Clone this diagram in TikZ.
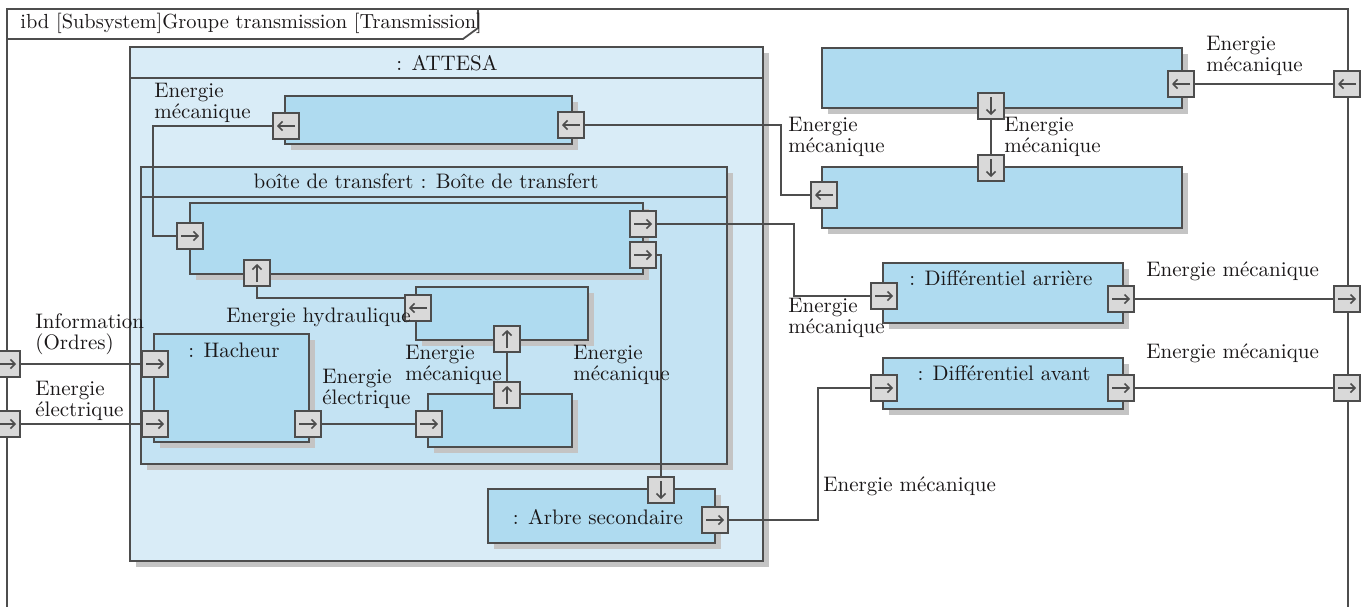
\documentclass[tikz,border=0pt]{standalone}
\usepackage{fontspec}
\usetikzlibrary{fit,shadows,arrows.meta}
\definecolor{cAtt}{HTML}{D9ECF7}
\definecolor{cTr}{HTML}{C4E3F3}
\definecolor{cBlk}{HTML}{AFDBF0}
\definecolor{cPort}{HTML}{D9D9D9}
\definecolor{cLine}{HTML}{4D4D4D}
\definecolor{cShadow}{HTML}{C4C4C4}
\definecolor{cText}{HTML}{1A1718}
\begin{document}
\begin{tikzpicture}[x=0.5pt,y=-0.5pt,
 font=\fontsize{10.5pt}{10.5pt}\selectfont, text=cText,
 shd/.style={drop shadow={shadow xshift=3pt,shadow yshift=-3pt,fill=cShadow,opacity=1}},
 box/.style={draw=cLine,line width=1pt,inner sep=0pt,shd},
 blk/.style={box,fill=cBlk},
 iport/.style={draw=cLine,line width=1pt,fill=cPort,minimum size=13pt,inner sep=0pt},
 parrow/.style={draw=cLine,line width=0.8pt,-{Straight Barb[length=2.2pt,width=4.5pt]}},
 pR/.style={iport,path picture={\draw[parrow] ([xshift=-4.5pt]path picture bounding box.center) -- ([xshift=4.5pt]path picture bounding box.center);}},
 pL/.style={iport,path picture={\draw[parrow] ([xshift=4.5pt]path picture bounding box.center) -- ([xshift=-4.5pt]path picture bounding box.center);}},
 pU/.style={iport,path picture={\draw[parrow] ([yshift=-4.5pt]path picture bounding box.center) -- ([yshift=4.5pt]path picture bounding box.center);}},
 pD/.style={iport,path picture={\draw[parrow] ([yshift=4.5pt]path picture bounding box.center) -- ([yshift=-4.5pt]path picture bounding box.center);}},
 conn/.style={draw=cLine,line width=1pt},
 frm/.style={draw=cLine,line width=0.9pt},
 lbl/.style={anchor=north west,align=left,inner sep=0pt},
 ttl/.style={anchor=base,inner sep=0pt}
]
\useasboundingbox (0,0) rectangle (1369,606);
\clip (0,0) rectangle (1369,606);
\fill[white] (0,0) rectangle (1369,606);

% frame
\draw[frm] (7,640) -- (7,9) -- (1348,9) -- (1348,640);
\draw[frm] (7,39) -- (463,39) -- (478,28) -- (478,9);
\node[anchor=base west,inner sep=0pt,font=\fontsize{10.2pt}{10.2pt}\selectfont] (hdr) at (20,28) {ibd [Subsystem]Groupe transmission [Transmission]};

% ATTESA
\node[box,fill=cAtt,fit={(130,47)(763,561)}] (att) {};
\draw[conn] (130,78) -- (763,78);
\node[ttl] (attT) at (447,70) {: ATTESA};

\node[blk,fit={(285,96)(572,144)}] (A) {};

% transfer box
\node[box,fill=cTr,fit={(141,167)(727,464)}] (T) {};
\draw[conn] (141,197) -- (727,197);
\node[ttl] (TT) at (426,188) {boîte de transfert : Boîte de transfert};

\node[blk,fit={(190,203)(643,274)}] (B) {};
\node[blk,fit={(416,287)(588,340)}] (C) {};
\node[blk,fit={(428,394)(572,447)}] (D) {};
\node[blk,fit={(154,334)(309,442)}] (H) {};
\node[ttl] (HT) at (234,357) {: Hacheur};

\node[blk,fit={(488,489)(715,543)}] (S) {};
\node[ttl] (ST) at (598,524) {: Arbre secondaire};

% right side blocks
\node[blk,fit={(822,48)(1182,108)}] (E) {};
\node[blk,fit={(822,167)(1182,228)}] (F) {};
\node[blk,fit={(883,263)(1123,323)}] (DA) {};
\node[ttl] (DAT) at (1001,285) {: Différentiel arrière};
\node[blk,fit={(883,358)(1123,409)}] (DV) {};
\node[ttl] (DVT) at (1004,380) {: Différentiel avant};

% ports
\node[pL] (Al) at (286,126) {};
\node[pL] (Ar) at (571,125) {};
\node[pR] (Bl) at (190,236) {};
\node[pU] (Bb) at (257,273) {};
\node[pR] (Br1) at (643,224) {};
\node[pR] (Br2) at (643,255) {};
\node[pL] (Cl) at (418,308) {};
\node[pU] (Cb) at (507,339) {};
\node[pR] (Dl) at (429,424) {};
\node[pU] (Dt) at (507,395) {};
\node[pR] (Hl1) at (155,364) {};
\node[pR] (Hl2) at (155,424) {};
\node[pR] (Hr) at (308,424) {};
\node[pD] (St) at (661,490) {};
\node[pR] (Sr) at (715,520) {};
\node[pL] (Er) at (1181,84) {};
\node[pD] (Eb) at (991,106) {};
\node[pD] (Ft) at (991,168) {};
\node[pL] (Fl) at (824,195) {};
\node[pR] (DAl) at (884,296) {};
\node[pR] (DAr) at (1121,299) {};
\node[pR] (DVl) at (884,388) {};
\node[pR] (DVr) at (1121,388) {};
\node[pR] (P1) at (7,364) {};
\node[pR] (P2) at (7,424) {};
\node[pL] (P3) at (1347,84) {};
\node[pR] (P4) at (1347,299) {};
\node[pR] (P5) at (1347,388) {};

% connectors
\draw[conn] (P1) -- (Hl1);
\draw[conn] (P2) -- (Hl2);
\draw[conn] (Al.west) -- ++(-119,0) |- (Bl.west);
\draw[conn] (Ar.east) -| (781,160) |- (Fl.west);
\draw[conn] (Eb) -- (Ft);
\draw[conn] (Er) -- (P3);
\draw[conn] (Br1.east) -| (794,260) |- (DAl.west);
\draw[conn] (Br2.east) -| (St.north);
\draw[conn] (Bb.south) |- ([yshift=5pt]Cl.west);
\draw[conn] (Dt) -- (Cb);
\draw[conn] (Hr) -- (Dl);
\draw[conn] (DAr) -- (P4);
\draw[conn] (DVr) -- (P5);
\draw[conn] (Sr.east) -| (818,450) |- (DVl.west);

% labels
\node[lbl] (l1) at (154,83) {Energie\\mécanique};
\node[lbl] (l2) at (788,117) {Energie\\mécanique};
\node[lbl] (l3) at (1004,117) {Energie\\mécanique};
\node[lbl] (l4) at (1206,36) {Energie\\mécanique};
\node[lbl] (l5) at (1146,261) {Energie mécanique};
\node[lbl] (l6) at (788,298) {Energie\\mécanique};
\node[lbl] (l7) at (1146,343) {Energie mécanique};
\node[lbl] (l8) at (823,476) {Energie mécanique};
\node[lbl] (l9) at (35,313) {Information\\(Ordres)};
\node[lbl] (l10) at (35,381) {Energie\\électrique};
\node[lbl] (l11) at (226,308) {Energie hydraulique};
\node[lbl] (l12) at (322,369) {Energie\\électrique};
\node[lbl] (l13) at (405,345) {Energie\\mécanique};
\node[lbl] (l14) at (573,345) {Energie\\mécanique};
\end{tikzpicture}
\end{document}
